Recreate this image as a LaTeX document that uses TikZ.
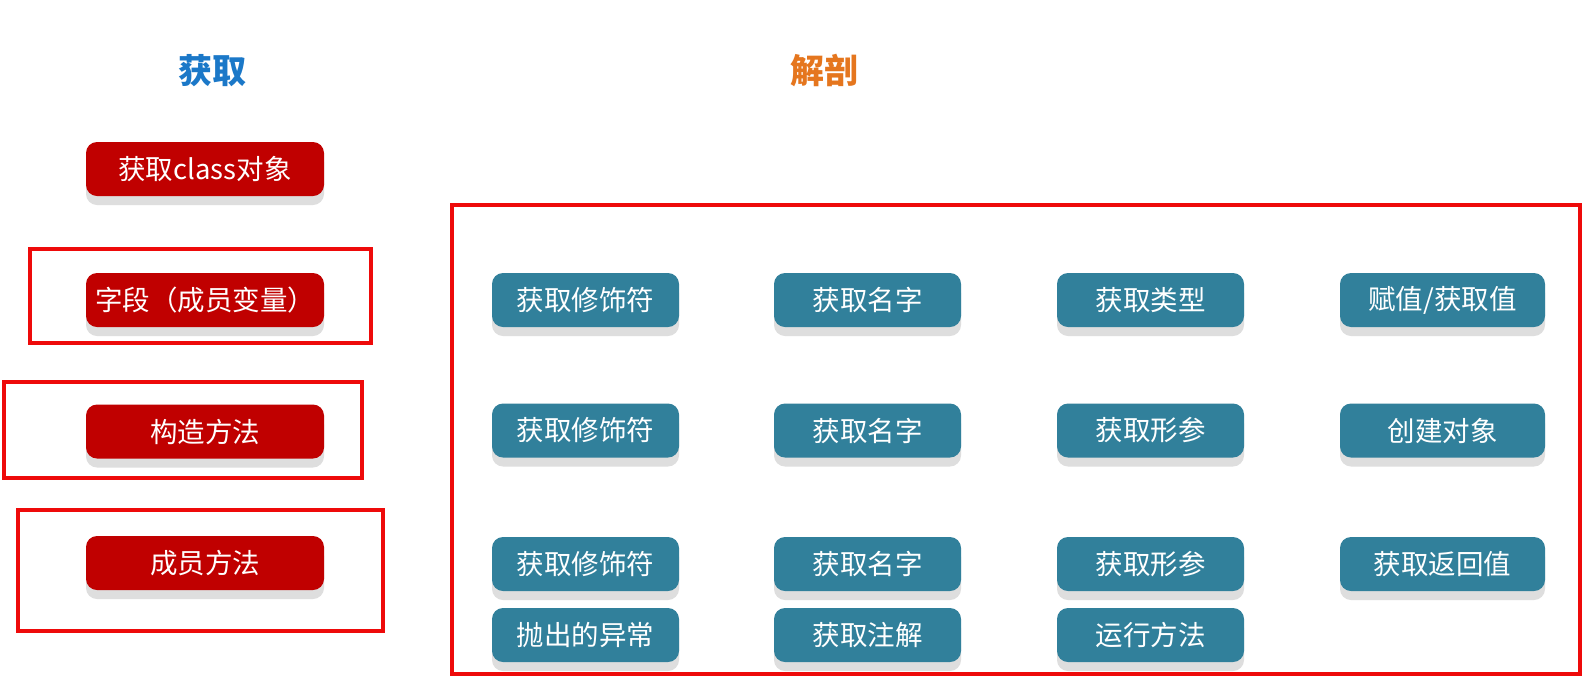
\documentclass[tikz,border=0pt]{standalone}
\usepackage{fontspec}
\newfontfamily\cjk{Noto Sans CJK SC}
\usetikzlibrary{shadows}
\definecolor{btnred}{HTML}{C00000}
\definecolor{btnteal}{HTML}{31809B}
\definecolor{frame}{HTML}{EE0A0A}
\definecolor{titleblue}{HTML}{1B78C8}
\definecolor{titleorange}{HTML}{E5761E}
\tikzset{
  btn/.style={rectangle, rounded corners=11pt, minimum height=54pt, inner sep=0pt,
    text=white, font=\cjk\fontsize{27.5}{32}\selectfont,
    drop shadow={shadow xshift=0pt, shadow yshift=-9pt, fill=black!13, opacity=1}},
  redbtn/.style={btn, fill=btnred, minimum width=238pt},
  tealbtn/.style={btn, fill=btnteal, minimum width=187pt},
  widebtn/.style={btn, fill=btnteal, minimum width=205pt},
  title/.style={font=\cjk\bfseries\fontsize{34}{38}\selectfont},
  group/.style={draw=frame, line width=3.4pt}
}
\begin{document}
\begin{tikzpicture}[x=1pt, y=-1pt]
\useasboundingbox[fill=white] (0,0) rectangle (1593,681);

% column headings
\node[title, text=titleblue] (hget) at (212,71) {获取};
\node[title, text=titleorange] (hdis) at (824,71) {解剖};

% group frames
\draw[group] (30,249) rectangle (371,343);
\draw[group] (4,382) rectangle (362,478);
\draw[group] (18,510) rectangle (383,631);
\draw[group] (452,205) rectangle (1580,674);

% left column
\node[redbtn] (cls) at (205,169) {获取class对象};
\node[redbtn] (fld) at (205,300) {字段（成员变量）};
\node[redbtn] (ctor) at (205,431.5) {构造方法};
\node[redbtn] (mth) at (205,563) {成员方法};

% field row
\node[tealbtn] (f1) at (585.5,300) {获取修饰符};
\node[tealbtn] (f2) at (867.5,300) {获取名字};
\node[tealbtn] (f3) at (1150.5,300) {获取类型};
\node[widebtn] (f4) at (1442.5,300) {赋值/获取值};

% constructor row
\node[tealbtn] (c1) at (585.5,430.5) {获取修饰符};
\node[tealbtn] (c2) at (867.5,430.5) {获取名字};
\node[tealbtn] (c3) at (1150.5,430.5) {获取形参};
\node[widebtn] (c4) at (1442.5,430.5) {创建对象};

% method rows
\node[tealbtn] (m1) at (585.5,564) {获取修饰符};
\node[tealbtn] (m2) at (867.5,564) {获取名字};
\node[tealbtn] (m3) at (1150.5,564) {获取形参};
\node[widebtn] (m4) at (1442.5,564) {获取返回值};
\node[tealbtn] (m5) at (585.5,635) {抛出的异常};
\node[tealbtn] (m6) at (867.5,635) {获取注解};
\node[tealbtn] (m7) at (1150.5,635) {运行方法};
\end{tikzpicture}
\end{document}
